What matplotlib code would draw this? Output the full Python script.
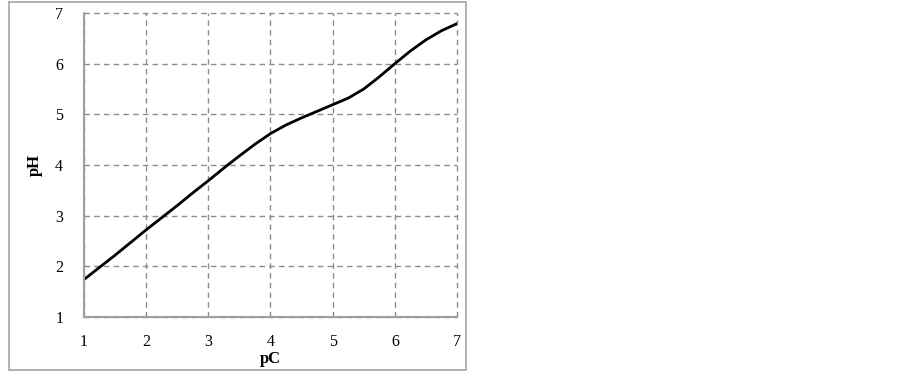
import numpy as np
import matplotlib.pyplot as plt
from matplotlib.patches import Rectangle

# values
pc = [1.0, 1.25, 1.5, 1.75, 2.0, 2.25, 2.5, 2.75, 3.0, 3.25, 3.5, 3.75, 4.0,
      4.25, 4.5, 4.75, 5.0, 5.25, 5.5, 5.75, 6.0, 6.25, 6.5, 6.75, 7.0]
ph = [1.74, 1.98, 2.22, 2.47, 2.72, 2.96, 3.20, 3.45, 3.69, 3.94, 4.18, 4.41, 4.62,
      4.79, 4.93, 5.06, 5.19, 5.32, 5.50, 5.74, 6.00, 6.25, 6.47, 6.65, 6.79]
ticks = [1, 2, 3, 4, 5, 6, 7]

plt.rcParams['font.family'] = ['Liberation Serif', 'DejaVu Serif']

W, H = 903, 372
fig = plt.figure(figsize=(W / 100, H / 100), dpi=100)

# outer frame around the chart area
fig.patches.append(Rectangle((9 / W, 2 / H), (466 - 9) / W, (370 - 2) / H,
                             transform=fig.transFigure, fill=False,
                             edgecolor='#a6a6a6', linewidth=1.2))

ax = fig.add_axes([84 / W, (H - 317) / H, (457 - 84) / W, (317 - 13) / H])
ax.plot(pc, ph, color='black', linewidth=2, solid_capstyle='round')

ax.set_xlim(1, 7)
ax.set_ylim(1, 7)
ax.set_xticks(ticks)
ax.set_yticks(ticks)
ax.grid(True, linestyle=(0, (4, 3)), color='#8c8c8c', linewidth=1)
ax.set_axisbelow(True)
# keep the gridlines at 7 fully visible (they form the top/right frame)
for gl in ax.get_xgridlines() + ax.get_ygridlines():
    gl.set_clip_on(False)
ax.tick_params(length=0, labelsize=11.5, pad=12)
ax.tick_params(axis='y', pad=15)

for s in ['top', 'right']:
    ax.spines[s].set_visible(False)
for s in ['left', 'bottom']:
    ax.spines[s].set_color('#a0a0a0')
    ax.spines[s].set_linewidth(1.5)
    ax.spines[s].set_zorder(3)

ax.set_xlabel('pC', fontsize=12, fontweight='bold', labelpad=1)
ax.set_ylabel('pH', fontsize=12, fontweight='bold', labelpad=9)

fig.savefig('out.png', dpi=100)
